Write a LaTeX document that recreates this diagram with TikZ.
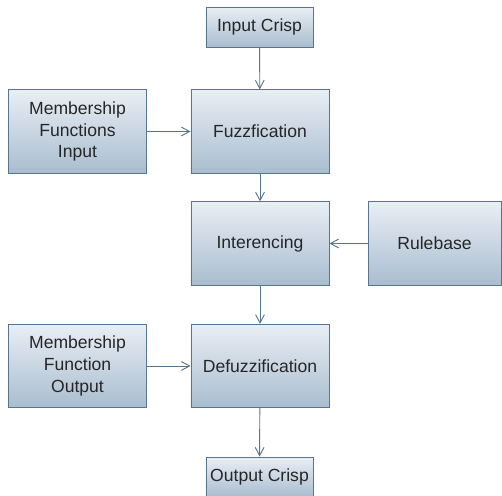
\documentclass[tikz,border=0pt]{standalone}
\usepackage{fontspec}
\setmainfont{Liberation Sans}
\usetikzlibrary{arrows.meta}

\definecolor{boxline}{HTML}{56758F}
\definecolor{boxtop}{HTML}{E9EEF5}
\definecolor{boxbottom}{HTML}{A9BDCF}
\definecolor{boxtext}{HTML}{262626}

\tikzset{
  stage/.style={draw=boxline, line width=0.8pt, top color=boxtop,
    bottom color=boxbottom, text=boxtext, align=center, inner sep=0pt,
    font=\fontsize{15}{18.7}\selectfont},
  bigbox/.style={stage, minimum width=4.14cm, minimum height=2.5cm},
  smallbox/.style={stage, minimum width=3.21cm, minimum height=1.2cm},
  flow/.style={draw=boxline, line width=0.8pt,
    -{Straight Barb[length=7pt,width=7.5pt]}}
}

\begin{document}
\begin{tikzpicture}[x=0.03cm,y=-0.03cm]
    \useasboundingbox (0,0) rectangle (502,495);
    \node[smallbox] (crispin) at (259.5,27) {Input Crisp};
    \node[bigbox] (mfin) at (77.5,131.5) {Membership\\Functions\\Input};
    \node[bigbox] (fuzz) at (260,131.5) {Fuzzfication};
    \node[bigbox] (infer) at (260,243.5) {Interencing};
    \node[bigbox, minimum width=3.99cm] (rules) at (434.5,243.5) {Rulebase};
    \node[bigbox] (mfout) at (77.5,366) {Membership\\Function\\Output};
    \node[bigbox] (defuzz) at (260,366) {Defuzzification};
    \node[smallbox] (crispout) at (259.5,477) {Output Crisp};

    \draw[flow] (crispin) -- (fuzz);
    \draw[flow] (mfin) -- (fuzz);
    \draw[flow] (fuzz) -- (infer);
    \draw[flow] (rules) -- (infer);
    \draw[flow] (infer) -- (defuzz);
    \draw[flow] (mfout) -- (defuzz);
    \draw[flow] (defuzz) -- (crispout);
  \end{tikzpicture}
\end{document}
